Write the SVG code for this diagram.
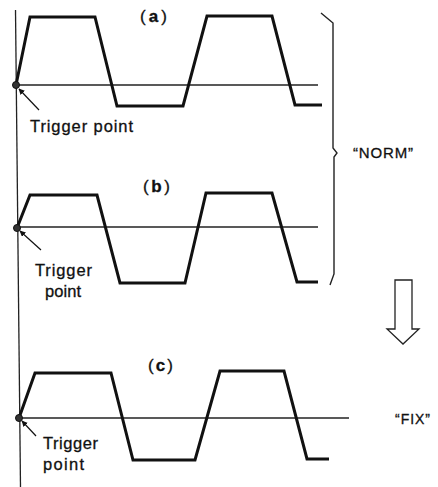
<svg xmlns="http://www.w3.org/2000/svg" width="438" height="487" viewBox="0 0 438 487">
<defs>
<style>
.wave{fill:none;stroke:#111;stroke-width:3;stroke-linejoin:miter}
.axis{fill:none;stroke:#222;stroke-width:1.3}
.ptr{fill:none;stroke:#111;stroke-width:1.2}
.lbl{font-family:"Liberation Sans",Arial,sans-serif;fill:#111;stroke:#111;stroke-width:0.3}
.dot{fill:#333;stroke:#111;stroke-width:1}
</style>
<marker id="ah" viewBox="0 0 10 10" refX="9" refY="5" markerWidth="6" markerHeight="6" orient="auto" markerUnits="userSpaceOnUse">
<path d="M0,0 L10,5 L0,10 z" fill="#111"/>
</marker>
</defs>
<rect width="438" height="487" fill="#fff"/>
<g id="connectors">
<line class="axis" x1="15.5" y1="10" x2="20.5" y2="487" stroke-width="1.5"/>
<line class="axis" x1="16" y1="85" x2="318" y2="85"/>
<line class="axis" x1="17" y1="227" x2="318" y2="227"/>
<line class="axis" x1="19" y1="418" x2="349" y2="418"/>
<line class="ptr" x1="39" y1="110" x2="19" y2="89" marker-end="url(#ah)"/>
<line class="ptr" x1="41" y1="250" x2="20" y2="231" marker-end="url(#ah)"/>
<line class="ptr" x1="36" y1="436" x2="22" y2="421" marker-end="url(#ah)"/>
</g>
<g id="wave-a">
<polyline class="wave" points="16,85 30,17 95,17 117,106 183,106 207,16 272,16 295,105 322,105"/>
<circle class="dot" cx="16" cy="85" r="3.5"/>
<text class="lbl" x="140" y="22" font-size="17" textLength="27">(<tspan font-weight="bold">a</tspan>)</text>
<text class="lbl" x="30" y="132" font-size="16.5" textLength="103">Trigger point</text>
</g>
<g id="wave-b">
<polyline class="wave" points="17,228 30,195 97,195 120,283 185,283 206,193 272,193 297,282 318,282"/>
<circle class="dot" cx="17" cy="228" r="3.5"/>
<text class="lbl" x="143" y="192" font-size="17" textLength="27">(<tspan font-weight="bold">b</tspan>)</text>
<text class="lbl" x="35" y="276" font-size="16.5" textLength="57">Trigger</text>
<text class="lbl" x="45" y="297" font-size="16.5" textLength="36">point</text>
</g>
<g id="wave-c">
<polyline class="wave" points="19,418 35,373 111,373 133,460 195,460 220,371 284,371 307,459 329,459"/>
<circle class="dot" cx="19" cy="418" r="3.5"/>
<text class="lbl" x="148" y="371" font-size="17" textLength="25">(<tspan font-weight="bold">c</tspan>)</text>
<text class="lbl" x="43" y="449" font-size="16.5" textLength="55">Trigger</text>
<text class="lbl" x="43" y="470" font-size="16.5" textLength="41">point</text>
</g>
<g id="brace-norm">
<path d="M321,13 L333,23 L333,148 L337,153 L334,157 L334,274 L330,285" fill="none" stroke="#222" stroke-width="1.4"/>
<text class="lbl" x="353" y="158" font-size="15" textLength="60" stroke-width="0">“NORM”</text>
</g>
<g id="arrow-down">
<path d="M395,280 L412,280 L412,329 L419,329 L403,344 L387,329 L395,329 Z" fill="#fff" stroke="#222" stroke-width="1.3"/>
</g>
<g id="label-fix">
<text class="lbl" x="395" y="424" font-size="14" textLength="35" stroke-width="0">“FIX”</text>
</g>
</svg>
